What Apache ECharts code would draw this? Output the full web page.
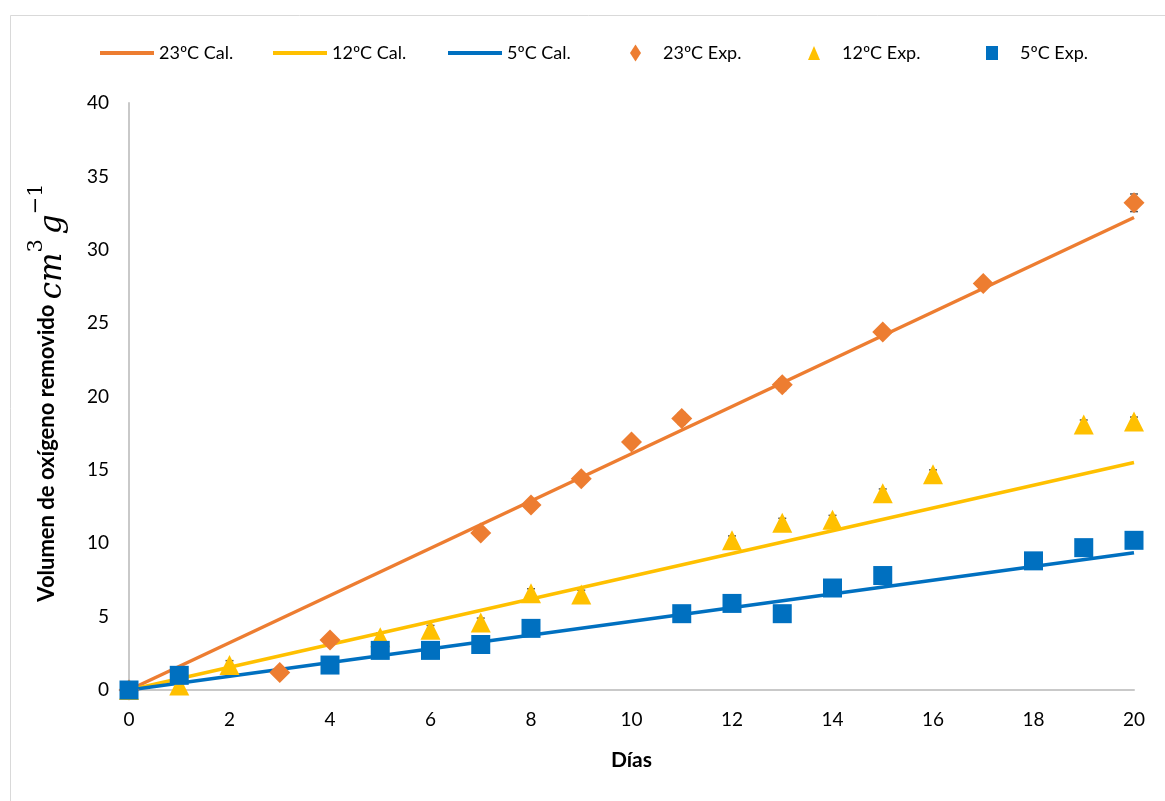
<!DOCTYPE html>
<html>
<head>
<meta charset="utf-8">
<script src="https://cdn.jsdelivr.net/npm/echarts@6/dist/echarts.min.js"></script>
<style>html,body{margin:0;padding:0;background:#fff}#c{width:1165px;height:801px}</style>
</head>
<body>
<div id="c"></div>
<script>
// ---- data ----
var seriesNames = ['23ºC Cal.', '12ºC Cal.', '5ºC Cal.', '23ºC Exp.', '12ºC Exp.', '5ºC Exp.'];
var calc23 = [[0, 0], [20, 32.2]];
var calc12 = [[0, 0], [20, 15.5]];
var calc5  = [[0, 0], [20, 9.35]];
var exp23Days = [0, 3, 4, 7, 8, 9, 10, 11, 13, 15, 17, 20];
var exp23Vals = [0, 1.2, 3.4, 10.7, 12.6, 14.4, 16.9, 18.5, 20.8, 24.4, 27.7, 33.2];
var exp23Err  = [0, 0.2, 0.2, 0.2, 0.2, 0.3, 0.2, 0.4, 0.4, 0.2, 0.2, 0.6];
var exp12Days = [0, 1, 2, 5, 6, 7, 8, 9, 12, 13, 14, 15, 16, 19, 20];
var exp12Vals = [0, 0.3, 1.7, 3.6, 4.1, 4.6, 6.6, 6.5, 10.2, 11.4, 11.6, 13.4, 14.7, 18.1, 18.3];
var exp12Err  = [0, 0.2, 0.3, 0.3, 0.3, 0.3, 0.3, 0.3, 0.3, 0.3, 0.3, 0.3, 0.3, 0.3, 0.3];
var exp5Days  = [0, 1, 4, 5, 6, 7, 8, 11, 12, 13, 14, 15, 18, 19, 20];
var exp5Vals  = [0, 1.0, 1.7, 2.7, 2.7, 3.1, 4.2, 5.2, 5.9, 5.2, 6.95, 7.8, 8.8, 9.7, 10.2];
var xTicks = [0, 2, 4, 6, 8, 10, 12, 14, 16, 18, 20];
var yTicks = [0, 5, 10, 15, 20, 25, 30, 35, 40];

var colors = ['#ED7D31', '#FFC000', '#0070C0'];
var FONT = 'Lato, "Open Sans", sans-serif';
var SERIF = '"DejaVu Serif", "Liberation Serif", serif';

function pairs(xs, ys) { return xs.map(function (x, i) { return [x, ys[i]]; }); }
function errData(xs, ys, es) { return xs.map(function (x, i) { return [x, ys[i] - es[i], ys[i] + es[i]]; }); }

function errorSeries(data) {
  return {
    type: 'custom', z: 1, silent: true,
    renderItem: function (params, api) {
      var x = api.value(0);
      var lo = api.coord([x, api.value(1)]);
      var hi = api.coord([x, api.value(2)]);
      var w = 4;
      var st = { stroke: '#595959', lineWidth: 1.5 };
      return { type: 'group', children: [
        { type: 'line', shape: { x1: lo[0], y1: lo[1], x2: hi[0], y2: hi[1] }, style: st },
        { type: 'line', shape: { x1: hi[0] - w, y1: hi[1], x2: hi[0] + w, y2: hi[1] }, style: st },
        { type: 'line', shape: { x1: lo[0] - w, y1: lo[1], x2: lo[0] + w, y2: lo[1] }, style: st }
      ] };
    },
    encode: { x: 0, y: [1, 2] },
    data: data
  };
}

var legendText = { fontFamily: FONT, fontSize: 18, color: '#000' };
var lineLegendLefts = [95, 268, 443];
var scatterLegendLefts = [625, 803, 981];
var legends = [];
for (var i = 0; i < 3; i++) {
  legends.push({
    data: [{ name: seriesNames[i], icon: 'rect' }], left: lineLegendLefts[i], top: 39,
    itemWidth: 54, itemHeight: 4, textStyle: legendText, selectedMode: false
  });
}
var scatterIcons = ['diamond', 'triangle', 'rect'];
var scatterIconSizes = [[11, 17], [12, 14], [12, 14]];
for (var j = 0; j < 3; j++) {
  legends.push({
    data: [{ name: seriesNames[3 + j], icon: scatterIcons[j] }], left: scatterLegendLefts[j], top: 39,
    itemWidth: scatterIconSizes[j][0], itemHeight: scatterIconSizes[j][1],
    textStyle: Object.assign({ padding: [0, 0, 0, 17] }, legendText), selectedMode: false
  });
}

var chart = echarts.init(document.getElementById('c'), null, { renderer: 'canvas' });
chart.setOption({
  animation: false,
  backgroundColor: '#fff',
  graphic: [{ type: 'rect', left: 8, top: 13, shape: { width: 1300, height: 900 }, style: { fill: 'none', stroke: '#d9d9d9', lineWidth: 1 }, z: -10 }],
  legend: legends,
  grid: { left: 129, right: 31, top: 103, bottom: 111 },
  xAxis: {
    type: 'value', min: xTicks[0], max: xTicks[xTicks.length - 1], interval: xTicks[1] - xTicks[0],
    name: 'Días', nameLocation: 'middle', nameGap: 60,
    nameTextStyle: { fontFamily: FONT, fontSize: 21, fontWeight: 'bold', color: '#000' },
    axisLine: { lineStyle: { color: '#c9c9c9', width: 2 } },
    axisTick: { show: false }, splitLine: { show: false },
    axisLabel: { fontFamily: FONT, fontSize: 19, color: '#000', margin: 20 }
  },
  yAxis: {
    type: 'value', min: yTicks[0], max: yTicks[yTicks.length - 1], interval: yTicks[1] - yTicks[0],
    name: 'Volumen de oxígeno removido {i|cm}{s|3}{g|g}{s|−1}', nameLocation: 'middle', nameGap: 61,
    nameTextStyle: {
      fontFamily: FONT, fontSize: 22, fontWeight: 'bold', color: '#000', padding: [0, 0, 0, 8],
      rich: {
        i: { fontFamily: SERIF, fontStyle: 'italic', fontWeight: 'normal', fontSize: 31, color: '#000', verticalAlign: 'bottom' },
        g: { fontFamily: SERIF, fontStyle: 'italic', fontWeight: 'normal', fontSize: 31, color: '#000', verticalAlign: 'bottom', padding: [0, 0, 0, 5] },
        s: { fontFamily: SERIF, fontWeight: 'normal', fontSize: 21, color: '#000', verticalAlign: 'top', lineHeight: 42 }
      }
    },
    axisLine: { show: true, lineStyle: { color: '#c9c9c9', width: 2 } },
    axisTick: { show: false }, splitLine: { show: false },
    axisLabel: { fontFamily: FONT, fontSize: 19, color: '#000', margin: 20 }
  },
  series: [
    { name: seriesNames[0], type: 'line', data: calc23, symbol: 'none', lineStyle: { color: colors[0], width: 3.5 }, itemStyle: { color: colors[0] }, z: 2 },
    { name: seriesNames[1], type: 'line', data: calc12, symbol: 'none', lineStyle: { color: colors[1], width: 3.5 }, itemStyle: { color: colors[1] }, z: 2 },
    { name: seriesNames[2], type: 'line', data: calc5, symbol: 'none', lineStyle: { color: colors[2], width: 3.5 }, itemStyle: { color: colors[2] }, z: 2 },
    errorSeries(errData(exp23Days, exp23Vals, exp23Err)),
    errorSeries(errData(exp12Days, exp12Vals, exp12Err)),
    { name: seriesNames[3], type: 'scatter', data: pairs(exp23Days, exp23Vals), symbol: 'diamond', symbolSize: 21, itemStyle: { color: colors[0], opacity: 1 }, z: 3 },
    { name: seriesNames[4], type: 'scatter', data: pairs(exp12Days, exp12Vals), symbol: 'triangle', symbolSize: 20, itemStyle: { color: colors[1], opacity: 1 }, z: 3 },
    { name: seriesNames[5], type: 'scatter', data: pairs(exp5Days, exp5Vals), symbol: 'rect', symbolSize: 19, itemStyle: { color: colors[2], opacity: 1 }, z: 4 }
  ]
});
</script>
</body>
</html>
